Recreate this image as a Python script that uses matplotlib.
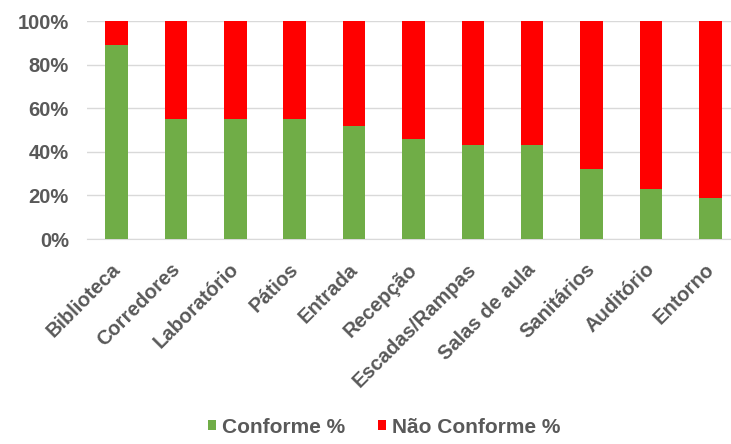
import numpy as np
import matplotlib
matplotlib.use('Agg')
import matplotlib.pyplot as plt
import matplotlib.transforms as mtrans
from matplotlib.ticker import PercentFormatter

# dados
locais = ['Biblioteca', 'Corredores', 'Laboratório', 'Pátios', 'Entrada', 'Recepção',
          'Escadas/Rampas', 'Salas de aula', 'Sanitários', 'Auditório', 'Entorno']
conforme = [89, 55, 55, 55, 52, 46, 43, 43, 32, 23, 19]
nao_conforme = [100 - v for v in conforme]

plt.rcParams['font.family'] = ['Liberation Sans', 'DejaVu Sans']
cinza = '#595959'

fig = plt.figure(figsize=(7.31, 4.44), dpi=100)
ax = fig.add_axes([87/731, 1 - 239/444, 1 - 87/731, 218/444])

x = np.arange(len(locais))
ax.bar(x, conforme, width=0.38, color='#70ad47', label='Conforme %', zorder=3)
ax.bar(x, nao_conforme, width=0.38, bottom=conforme, color='#ff0000',
       label='Não Conforme %', zorder=3)

ax.set_ylim(0, 100)
ax.set_xlim(-0.5, 10.35)
ax.set_yticks(np.arange(0, 101, 20))
ax.yaxis.set_major_formatter(PercentFormatter(decimals=0))
ax.grid(axis='y', color='#d9d9d9', linewidth=1, zorder=0)
for s in ['top', 'right', 'left']:
  ax.spines[s].set_visible(False)
ax.spines['bottom'].set_color('#d9d9d9')
ax.tick_params(length=0)
ax.tick_params(axis='y', pad=13)
ax.tick_params(axis='x', pad=15)
ax.set_xticks(x)
ax.set_xticklabels(locais, rotation=45, ha='right', va='top', rotation_mode='anchor')
desloc = mtrans.ScaledTranslation(-6/100, 0, fig.dpi_scale_trans)
for t in ax.get_xticklabels():
  t.set_transform(t.get_transform() + desloc)
for t in ax.get_xticklabels() + ax.get_yticklabels():
  t.set_fontsize(14.5)
  t.set_fontweight('bold')
  t.set_color(cinza)

fig.legend(loc='center', bbox_to_anchor=(384/731, 1 - 427/444), ncol=2, frameon=False,
           handlelength=0.4, handleheight=0.4, handletextpad=0.25, columnspacing=1.6,
           prop={'size': 15, 'weight': 'bold'}, labelcolor=cinza)

fig.savefig('out.png', dpi=100)
